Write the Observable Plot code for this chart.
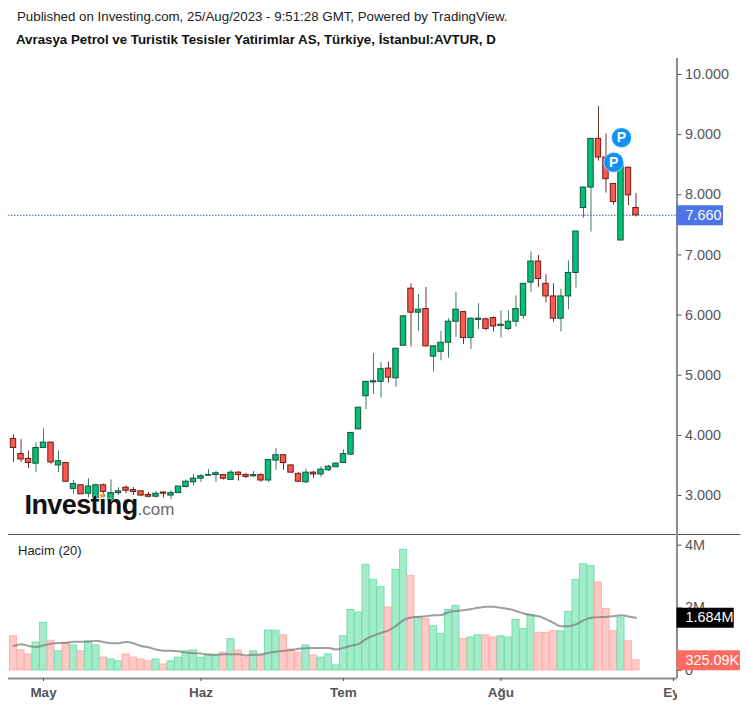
<!DOCTYPE html>
<html>
<head>
<meta charset="utf-8">
<script src="https://cdn.jsdelivr.net/npm/d3@7"></script>
<script src="https://cdn.jsdelivr.net/npm/@observablehq/plot@0.6"></script>
<style>
html,body{margin:0;padding:0;background:#fff;}
#page{position:relative;width:747px;height:707px;overflow:hidden;font-family:"Liberation Sans",Arial,sans-serif;}
#head{height:58px;position:relative;}
#l1{position:absolute;left:17px;top:9px;font-size:13.3px;color:#222;white-space:nowrap;}
#l2{position:absolute;left:16px;top:32px;font-size:13.3px;font-weight:bold;color:#111;white-space:nowrap;}
#vol{position:absolute;left:18px;top:543px;font-size:13px;color:#222;}
#mask{position:absolute;left:677px;top:681px;width:70px;height:26px;background:#fff;}
svg{display:block;overflow:visible;}
.logo text{letter-spacing:-.6px;}
</style>
</head>
<body>
<div id="page">
<div id="head">
<div id="l1">Published on Investing.com, 25/Aug/2023 - 9:51:28 GMT, Powered by TradingView.</div>
<div id="l2">Avrasya Petrol ve Turistik Tesisler Yatirimlar AS, Türkiye, İstanbul:AVTUR, D</div>
</div>
<div id="top"></div>
<div id="bot"></div>
<div id="vol">Hacim (20)</div>
<div id="mask"></div>
</div>
<script>
const opens=[3.94,3.69,3.61,3.53,3.79,3.88,3.50,3.54,3.11,3.17,3.03,2.96,3.17,2.92,3.04,3.13,3.09,3.07,3.01,2.98,3.05,3.00,3.04,3.14,3.22,3.28,3.33,3.34,3.34,3.26,3.38,3.34,
3.32,3.34,3.25,3.58,3.67,3.50,3.36,3.22,3.38,3.35,3.42,3.47,3.54,3.68,4.10,4.65,4.88,4.89,5.11,4.95,5.49,6.44,6.04,6.10,5.31,5.39,5.54,5.89,6.05,5.62,5.92,5.93,5.95,5.82,5.77,5.89,5.99,6.54,6.89,6.52,6.31,5.94,6.31,6.70,7.78,8.12,8.93,8.62,8.18,7.24,8.45,7.78];
const closes=[3.79,3.60,3.54,3.79,3.88,3.55,3.57,3.23,3.19,3.02,3.15,3.17,3.06,3.04,3.07,3.08,3.06,3.00,2.98,3.03,3.03,3.04,3.15,3.23,3.28,3.32,3.34,3.37,3.28,3.38,3.34,3.31,
3.34,3.25,3.59,3.67,3.54,3.38,3.23,3.38,3.35,3.43,3.48,3.53,3.69,4.04,4.46,4.89,4.90,5.10,4.96,5.44,5.98,6.04,6.09,5.48,5.48,5.54,5.89,6.09,5.62,5.94,5.94,5.77,5.81,5.84,5.89,6.10,6.52,6.89,6.60,6.31,5.94,6.31,6.70,7.39,8.12,8.93,8.62,8.26,7.88,8.50,7.99,7.66];
const highs=[4.01,3.93,3.74,3.88,4.11,3.88,3.74,3.55,3.25,3.18,3.28,3.19,3.19,3.26,3.13,3.16,3.13,3.08,3.05,3.07,3.06,3.08,3.15,3.26,3.35,3.35,3.43,3.40,3.35,3.42,3.40,3.37,
3.40,3.36,3.59,3.78,3.68,3.51,3.38,3.44,3.40,3.48,3.50,3.55,3.76,4.05,4.47,4.90,5.36,5.21,5.22,5.44,5.98,6.52,6.34,6.46,5.48,5.73,5.94,6.38,6.06,5.95,6.19,5.95,5.97,6.07,6.07,6.32,6.52,7.05,6.99,6.67,6.52,6.43,6.90,7.39,8.13,8.93,9.47,9.01,8.18,8.55,8.46,8.02];
const lows=[3.55,3.55,3.45,3.38,3.79,3.52,3.38,3.22,3.02,3.02,2.96,2.96,2.96,2.75,3.00,3.03,3.00,2.98,2.96,2.96,2.96,2.93,3.04,3.13,3.16,3.22,3.32,3.22,3.26,3.25,3.24,3.28,
3.30,3.22,3.22,3.42,3.42,3.38,3.22,3.20,3.28,3.30,3.40,3.47,3.54,3.66,4.09,4.43,4.68,4.62,4.87,4.80,5.49,5.47,5.73,5.47,5.05,5.24,5.28,5.63,5.51,5.43,5.76,5.74,5.72,5.62,5.74,5.80,5.93,6.38,6.46,6.20,5.88,5.72,6.09,6.45,7.61,7.38,8.56,8.03,7.83,7.24,7.82,7.63];
const volumes=[1.09,.64,.51,.89,1.52,.95,.61,.89,.80,.61,.93,.80,.41,.35,.29,.51,.41,.35,.29,.35,.19,.29,.41,.61,.64,.40,.51,.48,.57,1.00,.64,.41,
.61,.48,1.27,1.27,1.12,.67,.57,.80,.48,.41,.51,.16,1.09,1.93,1.85,3.37,2.89,2.66,2.01,3.21,3.85,3.02,1.71,1.64,1.41,1.16,1.93,2.06,1.00,1.05,1.12,1.12,1.05,1.09,1.05,1.61,1.32,1.77,1.20,1.20,1.25,1.25,1.87,2.89,3.39,3.33,2.81,1.96,1.25,1.68,.93,.325];
const volumeMA=[.78,.84,.78,.75,.80,.85,.88,.88,.92,.92,.92,.95,.91,.87,.87,.91,.87,.78,.74,.67,.63,.63,.61,.57,.55,.54,.50,.50,.52,.52,.52,.48,
.50,.51,.56,.60,.63,.65,.69,.71,.72,.72,.72,.67,.72,.79,.84,1.00,1.11,1.20,1.28,1.42,1.61,1.69,1.71,1.73,1.76,1.77,1.86,1.90,1.92,1.96,2.00,2.03,2.03,2.00,1.96,1.90,1.82,1.77,1.73,1.64,1.52,1.41,1.41,1.47,1.60,1.68,1.70,1.71,1.73,1.76,1.72,1.684];
const priceTicks=[3,4,5,6,7,8,9,10];
const volumeTicks=[0,2,4];
const monthBars=[4,25,44,65,88];
const monthNames=["May","Haz","Tem","Ağu","Eyl"];
const lastPrice=7.66, lastVolume=0.32509, lastMA=1.684;
const pins=[{i:81.07,p:8.95},{i:80.04,p:8.54}];

const xDomain=[-0.667,88.47];
const xRange=[8,676.5];
const labelX=89.6;
const C={up:"#00c176",upB:"#17523d",upW:"#3f7d67",dn:"#fb584e",dnB:"#6b1c17",dnW:"#70302b",axis:"#8c8c8c",txt:"#555"};
const font='"Liberation Sans",Arial,sans-serif';
const rows=opens.map((o,i)=>({i,o,c:closes[i],h:highs[i],l:lows[i],v:volumes[i],ma:volumeMA[i],up:closes[i]>=o}));

const main=Plot.plot({
  width:747,height:476,marginLeft:8,marginRight:70.5,marginTop:0,marginBottom:0,
  style:{fontFamily:font,background:"transparent"},
  x:{domain:xDomain,range:xRange,axis:null},
  y:{domain:[2.352,10.266],range:[476,0],axis:null},
  marks:[
    Plot.ruleY([lastPrice],{x1:xDomain[0],x2:xDomain[1],stroke:"#3458d8",strokeWidth:1,strokeDasharray:"1.5,1.5"}),
    Plot.ruleX(rows,{x:"i",y1:"l",y2:"h",stroke:d=>d.up?C.upW:C.dnW,strokeWidth:1}),
    Plot.rect(rows,{x1:d=>d.i-.36,x2:d=>d.i+.36,y1:"o",y2:"c",fill:d=>d.up?C.up:C.dn,stroke:d=>d.up?C.upB:C.dnB,strokeWidth:1}),
    Plot.ruleX([xDomain[1]],{stroke:C.axis,strokeWidth:2}),
    Plot.ruleY([2.352],{x1:xDomain[0],x2:97,stroke:"#555",strokeWidth:1}),
    Plot.axisY({anchor:"right",ticks:priceTicks,tickFormat:d=>d.toFixed(3),tickSize:4,tickPadding:4,fontSize:14.4,fill:C.txt,stroke:C.txt,label:null}),
    Plot.ruleY([lastPrice],{x1:xDomain[1],x2:94.67,stroke:"#4e73e6",strokeWidth:20}),
    Plot.text([lastPrice],{x:labelX,y:d=>d,text:d=>d.toFixed(3),fill:"white",fontSize:14.4,textAnchor:"start"}),
    Plot.dot(pins,{x:"i",y:"p",r:10,fill:"#0e93f5",stroke:"white",strokeWidth:.6}),
    Plot.text(pins,{x:"i",y:"p",text:()=>"P",fill:"white",fontWeight:"bold",fontSize:14}),
    Plot.text(["Investing"],{x:1.47,y:2.83,text:d=>d,textAnchor:"start",fontSize:27,fontWeight:"bold",fill:"#111",stroke:"white",strokeWidth:1.5,strokeOpacity:.6,className:"logo"}),
    Plot.text([".com"],{x:16.55,y:2.77,text:d=>d,textAnchor:"start",fontSize:17,fill:"#6a6a6a",stroke:"white",strokeWidth:1,strokeOpacity:.5}),
    Plot.dot([{i:11.83,p:3.0}],{x:"i",y:"p",r:2.3,fill:"#f6a623"})
  ]
});
document.getElementById("top").appendChild(main);

const vBottom=-0.257, vTop=4.34;
const volume=Plot.plot({
  width:747,height:173,marginLeft:8,marginRight:70.5,marginTop:0,marginBottom:29,
  style:{fontFamily:font,background:"transparent"},
  x:{domain:xDomain,range:xRange,axis:null},
  y:{domain:[vBottom,vTop],range:[144,0],axis:null},
  marks:[
    Plot.rect(rows,{x1:d=>d.i-.47,x2:d=>d.i+.47,y1:0,y2:"v",fill:d=>d.up?"#a4ebca":"#ffc9c5",stroke:d=>d.up?"#76e1b0":"#ffb1ab",strokeWidth:1}),
    Plot.line(rows,{x:"i",y:"ma",stroke:"#7f7f7f",strokeOpacity:.75,strokeWidth:2,curve:"monotone-x"}),
    Plot.ruleY([vBottom],{x1:xDomain[0],x2:xDomain[1],stroke:C.axis,strokeWidth:2}),
    Plot.ruleX([xDomain[1]],{stroke:C.axis,strokeWidth:2}),
    Plot.axisX({anchor:"bottom",ticks:monthBars,tickFormat:(d,i)=>monthNames[i],tickSize:3,tickPadding:6,fontSize:13.5,fontWeight:"bold",fill:C.txt,stroke:C.txt,label:null}),
    Plot.axisY({anchor:"right",ticks:volumeTicks,tickFormat:d=>d===0?"0":d+"M",tickSize:4,tickPadding:4,fontSize:14.4,fill:C.txt,stroke:C.txt,label:null}),
    Plot.ruleY([lastMA],{x1:xDomain[1],x2:96.1,stroke:"#000",strokeWidth:20}),
    Plot.text([lastMA],{x:labelX,y:d=>d,text:d=>(d).toFixed(3)+"M",fill:"white",fontSize:14.4,textAnchor:"start"}),
    Plot.ruleY([lastVolume],{x1:xDomain[1],x2:96.93,stroke:"#ff6a60",strokeWidth:20}),
    Plot.text([lastVolume],{x:labelX,y:d=>d,text:d=>(d*1000).toFixed(2)+"K",fill:"white",fontSize:14.4,textAnchor:"start"})
  ]
});
document.getElementById("bot").appendChild(volume);
</script>
</body>
</html>
